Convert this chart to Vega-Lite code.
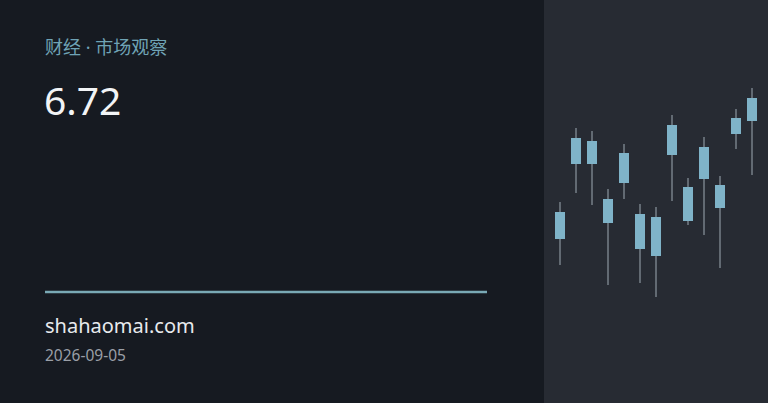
{
  "$schema": "https://vega.github.io/schema/vega-lite/v6.json",
  "description": "Finance card: title, last price and a small candlestick sparkline on a darker side panel.",
  "width": 768,
  "height": 403,
  "autosize": {"type": "fit", "contains": "padding"},
  "padding": 0,
  "background": "#161a21",
  "config": {"view": {"stroke": null}},
  "datasets": {
    "candles": [
      {"i": 0, "open": 5.31, "close": 5.58, "high": 5.68, "low": 5.05},
      {"i": 1, "open": 6.06, "close": 6.32, "high": 6.42, "low": 5.77},
      {"i": 2, "open": 6.29, "close": 6.06, "high": 6.39, "low": 5.65},
      {"i": 3, "open": 5.71, "close": 5.47, "high": 5.81, "low": 4.85},
      {"i": 4, "open": 5.87, "close": 6.17, "high": 6.26, "low": 5.71},
      {"i": 5, "open": 5.56, "close": 5.21, "high": 5.66, "low": 4.87},
      {"i": 6, "open": 5.53, "close": 5.14, "high": 5.63, "low": 4.73},
      {"i": 7, "open": 6.15, "close": 6.45, "high": 6.55, "low": 5.69},
      {"i": 8, "open": 5.49, "close": 5.83, "high": 5.92, "low": 5.45},
      {"i": 9, "open": 6.23, "close": 5.91, "high": 6.33, "low": 5.35},
      {"i": 10, "open": 5.62, "close": 5.85, "high": 5.94, "low": 5.02},
      {"i": 11, "open": 6.36, "close": 6.52, "high": 6.61, "low": 6.21},
      {"i": 12, "open": 6.49, "close": 6.72, "high": 6.82, "low": 5.95}
    ]
  },
  "layer": [
    {
      "data": {"values": [{}]},
      "mark": {"type": "rect", "color": "#272b33"},
      "encoding": {
        "x": {"datum": -1, "type": "quantitative", "scale": {"domain": [-35, 13], "nice": false, "zero": false, "padding": 0}, "axis": null},
        "x2": {"datum": 13},
        "y": {"datum": 7.70, "type": "quantitative", "scale": {"domain": [3.67, 7.70], "nice": false, "zero": false, "padding": 0}, "axis": null},
        "y2": {"datum": 3.67}
      }
    },
    {
      "data": {"name": "candles"},
      "mark": {"type": "rule", "color": "#9eaab3", "strokeWidth": 1},
      "encoding": {
        "x": {"field": "i", "type": "quantitative"},
        "y": {"field": "low", "type": "quantitative"},
        "y2": {"field": "high"}
      }
    },
    {
      "data": {"name": "candles"},
      "mark": {"type": "bar", "width": 10, "color": "#7fb3c8"},
      "encoding": {
        "x": {"field": "i", "type": "quantitative"},
        "y": {"field": "open", "type": "quantitative"},
        "y2": {"field": "close"}
      }
    },
    {
      "data": {"values": [{}]},
      "mark": {"type": "rule", "color": "#79a9b5", "strokeWidth": 2.5},
      "encoding": {
        "x": {"value": 45},
        "x2": {"value": 487},
        "y": {"value": 292}
      }
    },
    {
      "data": {"values": [{"t": "财经 · 市场观察"}]},
      "mark": {"type": "text", "align": "left", "baseline": "alphabetic", "x": 45, "y": 54, "font": "Noto Sans, Noto Sans CJK SC", "fontSize": 18, "color": "#6fa3b5"},
      "encoding": {"text": {"field": "t"}}
    },
    {
      "data": {"values": [{"t": "6.72"}]},
      "mark": {"type": "text", "align": "left", "baseline": "alphabetic", "x": 44, "y": 115, "font": "Noto Sans", "fontSize": 39, "color": "#f2f4f6"},
      "encoding": {"text": {"field": "t"}}
    },
    {
      "data": {"values": [{"t": "shahaomai.com"}]},
      "mark": {"type": "text", "align": "left", "baseline": "alphabetic", "x": 45, "y": 333, "font": "Noto Sans", "fontSize": 20, "color": "#e8eaed"},
      "encoding": {"text": {"field": "t"}}
    },
    {
      "data": {"values": [{"t": "2026-09-05"}]},
      "mark": {"type": "text", "align": "left", "baseline": "alphabetic", "x": 45, "y": 361, "font": "Noto Sans", "fontSize": 15.5, "color": "#9a9fa7"},
      "encoding": {"text": {"field": "t"}}
    }
  ]
}
